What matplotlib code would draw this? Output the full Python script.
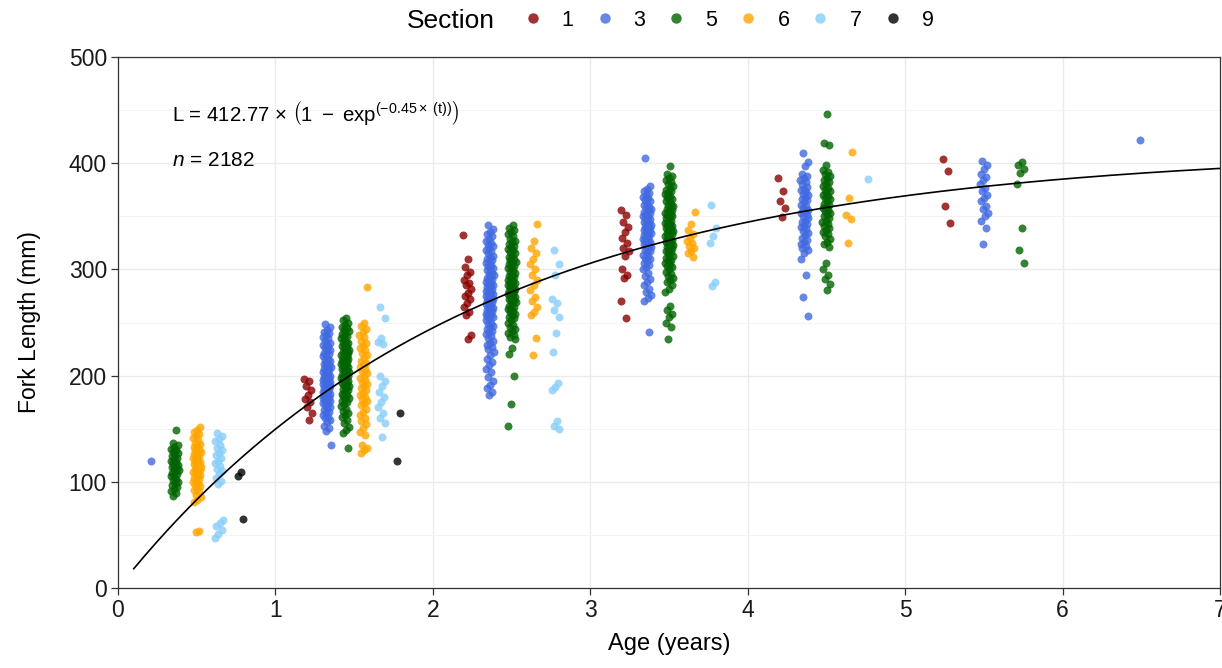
import numpy as np
import matplotlib
matplotlib.use("Agg")
import matplotlib.pyplot as plt
from matplotlib.lines import Line2D

plt.rcParams["font.family"] = ["Liberation Sans", "DejaVu Sans"]
plt.rcParams["mathtext.fontset"] = "custom"
plt.rcParams["mathtext.rm"] = "Liberation Sans"
plt.rcParams["mathtext.it"] = "Liberation Sans:italic"

# ---- data: fork length (mm) by age class, one list per age for each section ----
ages = [0.5, 1.5, 2.5, 3.5, 4.5, 5.5, 6.5]
sections = ["1", "3", "5", "6", "7", "9"]
section_colors = ["darkred", "royalblue", "darkgreen", "orange", "lightskyblue", "black"]

sec1_fl = [
    [],
    [197, 195, 190, 186, 182, 178, 175, 170, 165, 158],
    [332, 310, 302, 298, 295, 290, 287, 285, 282, 278, 275, 272, 268, 265, 260, 257, 238, 234],
    [356, 351, 345, 340, 335, 330, 325, 320, 317, 313, 300, 295, 292, 270, 254],
    [386, 374, 364, 358, 349],
    [404, 393, 360, 344],
    [],
]

sec3_fl = [
    [120],
    [249, 246, 243, 241, 240, 238, 236, 235, 233, 231, 230, 229, 227, 226, 224, 223, 221,
     220, 219, 218, 216, 215, 214, 212, 211, 210, 210, 208, 207, 206, 205, 204, 203, 202,
     201, 200, 200, 199, 198, 197, 196, 195, 195, 194, 193, 192, 191, 190, 190, 189, 188,
     187, 186, 185, 185, 184, 183, 182, 181, 180, 180, 179, 178, 177, 176, 175, 174, 173,
     172, 170, 169, 168, 166, 165, 163, 161, 160, 158, 156, 153, 151, 148, 135],
    [342, 338, 335, 333, 331, 329, 327, 325, 323, 322, 320, 318, 317, 315, 313, 312, 310,
     309, 307, 306, 304, 303, 301, 300, 299, 297, 296, 295, 293, 292, 291, 290, 288, 287,
     286, 285, 284, 283, 282, 281, 280, 279, 278, 277, 276, 275, 274, 273, 272, 271, 270,
     269, 268, 267, 266, 265, 264, 263, 262, 261, 260, 258, 257, 256, 255, 253, 252, 250,
     249, 247, 246, 244, 242, 241, 239, 237, 235, 233, 231, 229, 227, 225, 222, 219, 216,
     213, 210, 206, 203, 199, 195, 191, 188, 185, 182],
    [405, 379, 376, 374, 372, 370, 368, 367, 365, 364, 362, 361, 359, 358, 357, 355, 354,
     353, 352, 350, 349, 348, 347, 346, 345, 344, 343, 342, 341, 340, 339, 338, 337, 336,
     335, 334, 333, 332, 331, 330, 329, 328, 327, 326, 325, 324, 323, 322, 321, 320, 318,
     317, 316, 314, 313, 311, 310, 308, 306, 304, 302, 300, 297, 294, 291, 288, 285, 282,
     279, 276, 273, 270, 241],
    [410, 401, 397, 390, 388, 386, 384, 382, 380, 378, 376, 375, 373, 371, 370, 368, 366,
     365, 363, 361, 360, 358, 356, 355, 353, 351, 350, 348, 346, 345, 343, 341, 340, 338,
     336, 334, 332, 330, 328, 326, 324, 322, 320, 318, 315, 310, 295, 274, 256],
    [402, 398, 395, 390, 387, 384, 380, 377, 374, 370, 367, 364, 360, 357, 353, 350, 346,
     339, 324],
    [422],
]

sec5_fl = [
    [149, 137, 135, 133, 131, 130, 128, 127, 125, 124, 122, 121, 120, 119, 118, 116, 115,
     114, 113, 112, 111, 110, 108, 107, 106, 105, 103, 102, 100, 99, 97, 95, 93, 91, 89, 87],
    [254, 252, 250, 248, 246, 245, 243, 242, 240, 239, 237, 236, 235, 233, 232, 231, 229,
     228, 227, 226, 224, 223, 222, 221, 220, 219, 218, 217, 216, 215, 214, 213, 212, 211,
     210, 209, 208, 207, 206, 205, 204, 203, 202, 201, 200, 199, 198, 197, 196, 195, 194,
     193, 192, 191, 190, 188, 187, 186, 185, 183, 182, 181, 179, 178, 176, 175, 173, 171,
     169, 167, 165, 163, 161, 158, 155, 152, 149, 146, 132],
    [342, 339, 337, 335, 333, 331, 329, 327, 326, 324, 322, 321, 319, 318, 316, 315, 313,
     312, 310, 309, 307, 306, 305, 303, 302, 301, 299, 298, 297, 295, 294, 293, 292, 290,
     289, 288, 287, 286, 285, 284, 283, 282, 281, 280, 279, 278, 277, 276, 275, 274, 273,
     272, 271, 270, 269, 268, 266, 265, 264, 263, 261, 260, 258, 257, 255, 254, 252, 250,
     248, 246, 244, 242, 240, 238, 236, 234, 226, 220, 200, 173, 153],
    [397, 390, 388, 386, 384, 382, 380, 379, 377, 375, 374, 372, 371, 369, 368, 366, 365,
     364, 362, 361, 360, 358, 357, 356, 355, 353, 352, 351, 350, 349, 348, 346, 345, 344,
     343, 342, 341, 340, 339, 338, 337, 336, 335, 334, 333, 332, 331, 330, 329, 328, 327,
     326, 325, 324, 323, 322, 321, 320, 318, 317, 316, 315, 313, 312, 311, 309, 308, 306,
     305, 303, 302, 300, 298, 296, 294, 292, 290, 288, 285, 282, 279, 266, 262, 258, 255,
     250, 246, 234],
    [446, 419, 417, 398, 394, 392, 390, 388, 386, 384, 382, 380, 379, 377, 375, 374, 372,
     370, 369, 367, 366, 364, 362, 361, 359, 358, 356, 355, 353, 351, 350, 348, 346, 345,
     343, 341, 339, 337, 335, 333, 331, 329, 326, 324, 321, 306, 300, 295, 291, 286, 281],
    [401, 398, 395, 391, 380, 339, 318, 306],
    [],
]

sec6_fl = [
    [152, 149, 147, 145, 143, 141, 139, 137, 136, 134, 133, 131, 130, 128, 127, 126, 124,
     123, 122, 121, 120, 119, 118, 117, 116, 115, 114, 113, 112, 111, 110, 109, 108, 107,
     106, 105, 104, 103, 102, 100, 99, 97, 96, 94, 92, 90, 88, 86, 83, 81, 54, 53],
    [283, 250, 247, 244, 241, 238, 236, 233, 231, 228, 226, 224, 221, 219, 217, 214, 212,
     210, 208, 206, 204, 202, 200, 198, 196, 194, 192, 190, 188, 186, 184, 182, 180, 178,
     176, 174, 172, 169, 166, 163, 160, 157, 154, 151, 147, 144, 135, 132, 130, 127],
    [343, 327, 320, 315, 310, 305, 300, 295, 290, 285, 281, 274, 270, 265, 260, 257, 235, 219],
    [354, 343, 337, 333, 330, 327, 325, 322, 320, 317, 315, 312],
    [411, 367, 351, 347, 325],
    [],
    [],
]

sec7_fl = [
    [146, 143, 140, 138, 135, 132, 130, 127, 125, 122, 120, 118, 115, 112, 110, 107, 104,
     101, 98, 64, 61, 58, 55, 51, 47],
    [265, 254, 235, 232, 230, 200, 195, 190, 185, 180, 175, 170, 165, 160, 155, 142],
    [318, 305, 295, 272, 268, 262, 255, 240, 222, 193, 189, 186, 157, 153, 150],
    [361, 339, 331, 325, 288, 284],
    [385],
    [],
    [],
]

sec9_fl = [
    [109, 105, 65],
    [165, 120],
    [],
    [],
    [],
    [],
    [],
]

# von Bertalanffy growth fit
linf = 412.77
k = 0.45
n_fish = 2182

all_sections = [sec1_fl, sec3_fl, sec5_fl, sec6_fl, sec7_fl, sec9_fl]

# ---- figure ----
fig = plt.figure(figsize=(12.22, 6.68), dpi=100)
ax = fig.add_axes([118 / 1222, 80 / 668, 1102 / 1222, 531 / 668])

dodge_width = 0.7
jitter_half = 0.026
golden = 0.6180339887498949

for ai, age in enumerate(ages):
    present = [si for si, sec in enumerate(all_sections) if len(sec[ai]) > 0]
    n_groups = len(present)
    slot = dodge_width / n_groups
    for gi, si in enumerate(present):
        vals = np.asarray(all_sections[si][ai], dtype=float)
        center = age - dodge_width / 2 + slot * (gi + 0.5)
        idx = np.arange(len(vals))
        # deterministic low-discrepancy jitter so points don't sit on one line
        offs = ((idx * golden + 0.31 * si) % 1.0 - 0.5) * 2 * jitter_half
        ax.scatter(center + offs, vals, s=33, color=section_colors[si], alpha=0.8,
                   linewidths=0, zorder=3)

t = np.linspace(0.1, 7, 300)
ax.plot(t, linf * (1 - np.exp(-k * t)), color="black", lw=1.2, zorder=4)

ax.set_xlim(0, 7)
ax.set_ylim(0, 500)
ax.set_xticks(range(0, 8))
ax.set_yticks(range(0, 501, 100))
ax.set_yticks(range(50, 500, 100), minor=True)
ax.tick_params(which="major", length=5, width=0.9, color="#333333", labelsize=16.5,
               labelcolor="#1a1a1a", pad=3)
ax.tick_params(which="minor", length=0)
ax.grid(which="major", color="#EBEBEB", lw=1.0, zorder=0)
ax.grid(which="minor", axis="y", color="#F3F3F3", lw=0.6, zorder=0)
ax.set_axisbelow(True)
for sp in ax.spines.values():
    sp.set_color("#333333")
    sp.set_linewidth(0.9)

ax.set_xlabel("Age (years)", fontsize=17, labelpad=8)
ax.set_ylabel("Fork Length (mm)", fontsize=16.5, labelpad=20)

ax.text(0.343, 447,
        r"L = 412.77 $\times$ $\left(1\ -\ \mathrm{exp}^{\mathrm{(-0.45\times\ (t))}}\right)$",
        fontsize=14.7, va="center", ha="left")
ax.text(0.343, 403, r"$\it{n}$ = " + str(n_fish), fontsize=15, va="center", ha="left")

# legend across the top
handles = [Line2D([], [], ls="none", marker="o", markersize=7.5, markeredgewidth=0,
                  color=c, alpha=0.8) for c in section_colors]
fig.text(407 / 1222, 1 - 21 / 668, "Section", fontsize=19, va="center", ha="left")
fig.legend(handles, sections, ncol=6, loc="center left", frameon=False,
           bbox_to_anchor=(524 / 1222, 1 - 20 / 668), borderaxespad=0, borderpad=0,
           handlelength=0.8, handletextpad=0.95, columnspacing=1.04, fontsize=15.5)

fig.savefig("out.png", dpi=100)
